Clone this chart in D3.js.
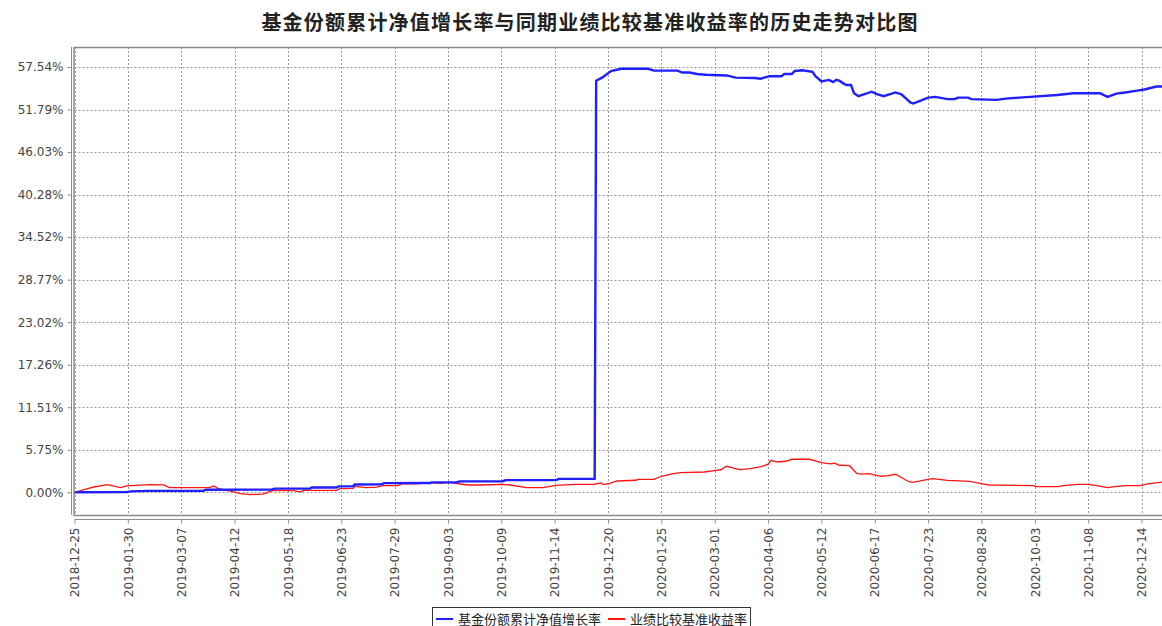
<!DOCTYPE html>
<html>
<head>
<meta charset="utf-8">
<script src="https://cdnjs.cloudflare.com/ajax/libs/d3/7.8.5/d3.min.js"></script>
<title>历史走势对比图</title>
<style>
    body { margin: 0; background: #fff; }
    .tick-label { font-family: "DejaVu Sans", sans-serif; font-size: 12px; fill: #444; }
    .title { font-family: "Noto Sans CJK SC", sans-serif; font-size: 20px; font-weight: bold; fill: #222; }
    .legend-text { font-family: "Noto Sans CJK SC", sans-serif; font-size: 13px; fill: #222; }
</style>
</head>
<body>
<div id="container"></div>
<script>
// Data
var titleText = "基金份额累计净值增长率与同期业绩比较基准收益率的历史走势对比图";
var seriesNames = ["基金份额累计净值增长率", "业绩比较基准收益率"];

var fundDates = ["2018-12-25","2019-01-29","2019-02-01","2019-02-12","2019-03-22","2019-03-24","2019-05-07","2019-05-09",
    "2019-06-02","2019-06-03","2019-06-20","2019-06-21","2019-07-01","2019-07-02","2019-07-20","2019-07-22","2019-08-22",
    "2019-08-23","2019-09-09","2019-09-11","2019-10-10","2019-10-12","2019-11-15","2019-11-17","2019-12-11","2019-12-12",
    "2019-12-16","2019-12-22","2019-12-29","2020-01-16","2020-01-20","2020-02-05","2020-02-08","2020-02-13","2020-02-18",
    "2020-02-24","2020-03-09","2020-03-15","2020-03-28","2020-04-01","2020-04-07","2020-04-15","2020-04-17","2020-04-22",
    "2020-04-24","2020-04-29","2020-05-06","2020-05-08","2020-05-12","2020-05-17","2020-05-20","2020-05-22","2020-05-24",
    "2020-05-27","2020-05-29","2020-06-01","2020-06-03","2020-06-06","2020-06-15","2020-06-18","2020-06-23","2020-07-01",
    "2020-07-05","2020-07-11","2020-07-13","2020-07-18","2020-07-23","2020-07-28","2020-08-05","2020-08-10","2020-08-12",
    "2020-08-19","2020-08-21","2020-09-07","2020-09-15","2020-09-30","2020-10-18","2020-10-29","2020-11-16","2020-11-21",
    "2020-11-27","2020-12-03","2020-12-11","2020-12-16","2020-12-24","2020-12-31"];
var fundValues = [0,0.02,0.13,0.2,0.22,0.35,0.36,0.5,
    0.52,0.65,0.66,0.81,0.82,1.06,1.07,1.24,1.26,
    1.35,1.36,1.48,1.5,1.65,1.67,1.82,1.83,55.69,
    56.1,57.0,57.3,57.3,57.05,57.05,56.8,56.8,56.6,
    56.5,56.4,56.1,56.05,55.96,56.3,56.3,56.6,56.6,
    57.0,57.1,56.9,56.3,55.6,55.8,55.5,55.8,55.7,
    55.3,55.1,55.1,54.0,53.6,54.2,53.9,53.6,54.1,
    53.85,52.76,52.6,53.0,53.4,53.5,53.2,53.2,53.4,
    53.4,53.2,53.1,53.3,53.5,53.75,54.0,54.0,53.5,
    53.95,54.1,54.35,54.5,54.9,54.9];

var benchDates = ["2018-12-25","2019-01-07","2019-01-16","2019-01-20","2019-01-25","2019-01-29","2019-02-14","2019-02-23",
    "2019-02-27","2019-03-26","2019-03-29","2019-04-01","2019-04-07","2019-04-16","2019-04-22","2019-05-01","2019-05-08",
    "2019-05-22","2019-05-26","2019-05-29","2019-06-20","2019-06-22","2019-07-01","2019-07-02","2019-07-10","2019-07-17",
    "2019-07-21","2019-07-31","2019-08-03","2019-08-13","2019-08-20","2019-08-29","2019-09-04","2019-09-07","2019-09-16",
    "2019-09-25","2019-10-10","2019-10-15","2019-10-26","2019-11-06","2019-11-15","2019-11-27","2019-12-10","2019-12-15",
    "2019-12-17","2019-12-21","2019-12-26","2020-01-08","2020-01-09","2020-01-20","2020-01-25","2020-02-02","2020-02-07",
    "2020-02-23","2020-03-02","2020-03-05","2020-03-09","2020-03-13","2020-03-18","2020-03-25","2020-04-02","2020-04-06",
    "2020-04-08","2020-04-12","2020-04-18","2020-04-22","2020-05-04","2020-05-12","2020-05-18","2020-05-21","2020-05-24",
    "2020-05-31","2020-06-05","2020-06-08","2020-06-13","2020-06-21","2020-06-26","2020-07-01","2020-07-09","2020-07-12",
    "2020-07-17","2020-07-22","2020-07-26","2020-08-05","2020-08-20","2020-08-28","2020-09-02","2020-10-02","2020-10-04",
    "2020-10-19","2020-10-22","2020-11-01","2020-11-08","2020-11-13","2020-11-21","2020-11-26","2020-12-03","2020-12-13",
    "2020-12-18","2020-12-31"];
var benchValues = [0,0.72,1.04,0.86,0.63,0.86,1.04,1.0,
    0.63,0.63,0.86,0.5,0.27,-0.18,-0.32,-0.25,0.27,
    0.22,0.05,0.27,0.27,0.5,0.54,0.81,0.63,0.7,
    0.9,0.9,1.13,1.13,1.31,1.22,1.35,1.26,0.99,
    0.99,1.08,0.99,0.63,0.63,0.95,1.08,1.08,1.26,
    1.04,1.2,1.53,1.63,1.76,1.76,2.17,2.53,2.67,
    2.75,2.98,3.05,3.52,3.3,3.07,3.2,3.52,3.8,
    4.33,4.1,4.2,4.47,4.47,4.02,3.84,3.93,3.66,
    3.6,2.53,2.45,2.53,2.17,2.26,2.44,1.53,1.35,
    1.5,1.72,1.85,1.62,1.49,1.18,0.99,0.9,0.77,
    0.77,0.9,1.08,1.08,0.95,0.63,0.77,0.9,0.9,
    1.13,1.45];

var yTickValues = [0, 5.754, 11.508, 17.262, 23.016, 28.77, 34.524, 40.278, 46.032, 51.786, 57.54];
var yTickLabels = ["0.00%","5.75%","11.51%","17.26%","23.02%","28.77%","34.52%","40.28%","46.03%","51.79%","57.54%"];
var xTickLabels = ["2018-12-25","2019-01-30","2019-03-07","2019-04-12","2019-05-18","2019-06-23","2019-07-29",
    "2019-09-03","2019-10-09","2019-11-14","2019-12-20","2020-01-25","2020-03-01","2020-04-06","2020-05-12",
    "2020-06-17","2020-07-23","2020-08-28","2020-10-03","2020-11-08","2020-12-14"];

var w = 1162, h = 626;
var plotLeft = 74.5, plotRight = 1166.7, plotTop = 47, plotBottom = 515;
var parse = d3.timeParse("%Y-%m-%d");

var svg = d3.select("#container").append("svg")
    .attr("width", w).attr("height", h)
    .style("display", "block");

var x = d3.scaleTime()
    .domain([parse("2018-12-25"), parse("2020-12-31")])
    .range([plotLeft, plotRight]);
var y = d3.scaleLinear()
    .domain([-3.07, 60.25])
    .range([plotBottom, plotTop]);

// title
svg.append("text").attr("class", "title")
    .attr("x", 590).attr("y", 30)
    .attr("text-anchor", "middle")
    .style("letter-spacing", "1.2px")
    .text(titleText);

// grid
var grid = svg.append("g").attr("stroke", "#9a9a9a").attr("stroke-width", 1).attr("stroke-dasharray", "2,2");
grid.selectAll("line.h").data(yTickValues).enter().append("line")
    .attr("x1", plotLeft).attr("x2", plotRight)
    .attr("y1", function(d) { return Math.round(y(d)) + 0.5; })
    .attr("y2", function(d) { return Math.round(y(d)) + 0.5; });
grid.selectAll("line.v").data(xTickLabels).enter().append("line")
    .attr("y1", plotTop).attr("y2", plotBottom)
    .attr("x1", function(d) { return Math.round(x(parse(d))) + 0.5; })
    .attr("x2", function(d) { return Math.round(x(parse(d))) + 0.5; });

// plot outline
svg.append("rect")
    .attr("x", plotLeft - 0.5).attr("y", plotTop + 0.5)
    .attr("width", plotRight - plotLeft).attr("height", plotBottom - plotTop)
    .attr("fill", "none").attr("stroke", "#8c8c8c").attr("stroke-width", 1.5);

// y axis
var yAxis = d3.axisLeft(y).tickValues(yTickValues).tickSize(4).tickPadding(4)
    .tickFormat(function(d, i) { return yTickLabels[i]; });
var gy = svg.append("g").attr("transform", "translate(71.5,0)").call(yAxis);
gy.select(".domain").attr("stroke", "#8c8c8c").attr("d", "M0," + plotTop + "V" + plotBottom);
gy.selectAll(".tick line").attr("stroke", "#8c8c8c");
gy.selectAll(".tick text").attr("class", "tick-label").attr("fill", "#444");

// x axis
var xAxis = d3.axisBottom(x).tickValues(xTickLabels.map(parse)).tickSize(4).tickPadding(4)
    .tickFormat(function(d, i) { return xTickLabels[i]; });
var gx = svg.append("g").attr("transform", "translate(0,519.5)").call(xAxis);
gx.select(".domain").attr("stroke", "#8c8c8c").attr("d", "M" + plotLeft + ",0H" + plotRight);
gx.selectAll(".tick line").attr("stroke", "#8c8c8c");
gx.selectAll(".tick text").attr("class", "tick-label").attr("fill", "#444")
    .attr("transform", "rotate(-90)")
    .attr("text-anchor", "end")
    .attr("x", -8).attr("y", 0).attr("dy", "0.35em");

// lines
svg.append("clipPath").attr("id", "plotclip").append("rect")
    .attr("x", plotLeft).attr("y", plotTop).attr("width", plotRight - plotLeft).attr("height", plotBottom - plotTop);

var line = d3.line()
    .x(function(d) { return x(d[0]); })
    .y(function(d) { return y(d[1]); });

var fundData = fundDates.map(function(d, i) { return [parse(d), fundValues[i]]; });
var benchData = benchDates.map(function(d, i) { return [parse(d), benchValues[i]]; });

var lines = svg.append("g").attr("clip-path", "url(#plotclip)");
lines.append("path").datum(benchData)
    .attr("d", line).attr("fill", "none")
    .attr("stroke", "#ff1414").attr("stroke-width", 1.3);
lines.append("path").datum(fundData)
    .attr("d", line).attr("fill", "none")
    .attr("stroke", "#1f1fff").attr("stroke-width", 2.4);

// legend
var lg = svg.append("g");
lg.append("rect").attr("x", 432.5).attr("y", 607.5).attr("width", 318).attr("height", 24)
    .attr("fill", "#fff").attr("stroke", "#333").attr("stroke-width", 1);
var legendColors = ["#1f1fff", "#ff1414"];
var legendX = [436, 608];
seriesNames.forEach(function(name, i) {
    lg.append("line").attr("x1", legendX[i]).attr("x2", legendX[i] + 17)
        .attr("y1", 619).attr("y2", 619)
        .attr("stroke", legendColors[i]).attr("stroke-width", 2);
    lg.append("text").attr("class", "legend-text")
        .attr("x", legendX[i] + 22).attr("y", 623.5)
        .text(name);
});
</script>
</body>
</html>
